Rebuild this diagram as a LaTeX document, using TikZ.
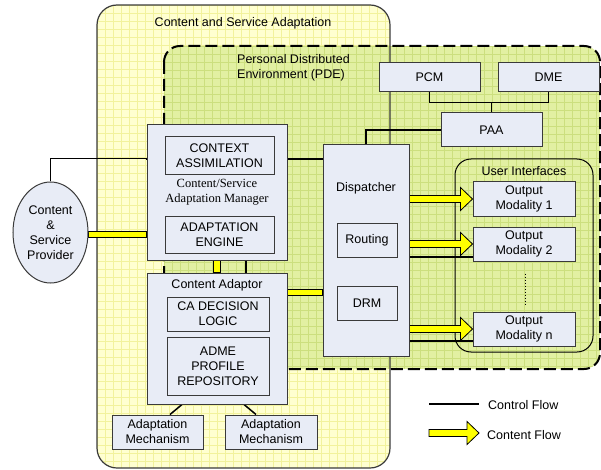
\documentclass[tikz,border=0pt]{standalone}
\usepackage{fontspec}
\setmainfont{Liberation Sans}
\newfontfamily\timesfont{Liberation Serif}
\usetikzlibrary{calc,shapes.geometric}
\definecolor{boxfill}{HTML}{E8ECF6}
\definecolor{boxline}{HTML}{3A3A3A}
\definecolor{csabase}{HTML}{FFFFD0}
\definecolor{csagrid}{HTML}{F2F29C}
\definecolor{pdebase}{HTML}{E2F0A2}
\definecolor{pdegrid}{HTML}{CCDF7E}
\definecolor{flowyellow}{HTML}{FFFF00}
\pgfdeclarelayer{areas}
\pgfdeclarelayer{links}
\pgfsetlayers{areas,links,main}

% yellow content-flow bar between two points on one horizontal line
\newcommand\flowbar[2]{%
  \filldraw[flow] let \p1=#1, \p2=#2 in (\x1,\y1-3pt) rectangle (\x2,\y1+3pt);}
% yellow content-flow bar on one vertical line
\newcommand\flowvbar[2]{%
  \filldraw[flow] let \p1=#1, \p2=#2 in (\x1-3.5pt,\y1) rectangle (\x1+3.5pt,\y2);}
% yellow content-flow arrow, tip at the second point
\newcommand\flowarrow[2]{%
  \filldraw[flow] let \p1=#1, \p2=#2 in
    (\x1,\y2+3.5pt) -- (\x2-12pt,\y2+3.5pt) -- (\x2-12pt,\y2+11.5pt) --
    (\x2,\y2) -- (\x2-12pt,\y2-11.5pt) -- (\x2-12pt,\y2-3.5pt) --
    (\x1,\y2-3.5pt) -- cycle;}

\begin{document}
\begin{tikzpicture}[x=1pt,y=-1pt,
  font=\fontsize{12.5}{15}\selectfont,
  box/.style={draw=boxline, line width=1pt, fill=boxfill, inner sep=0pt, align=center},
  lbl/.style={inner sep=0pt, align=center},
  ctrl/.style={line width=1.5pt, black},
  flow/.style={fill=flowyellow, draw=black, line width=0.8pt, line join=miter},
]
\useasboundingbox (0,0) rectangle (601,470);

% ---- shaded regions ----
\begin{pgfonlayer}{areas}
  \begin{scope}
    \clip[rounded corners=20pt] (97,5) rectangle (390,468);
    \fill[csabase] (97,5) rectangle (390,468);
    \foreach \g in {97,105,...,390} \draw[csagrid, line width=0.7pt] (\g,5) -- (\g,468);
    \foreach \g in {5,13,...,468} \draw[csagrid, line width=0.7pt] (97,\g) -- (390,\g);
  \end{scope}
  \begin{scope}
    \clip[rounded corners=16pt] (164,46) rectangle (600,369);
    \fill[pdebase] (164,46) rectangle (600,369);
    \foreach \g in {164,172,...,600} \draw[pdegrid, line width=0.7pt] (\g,46) -- (\g,369);
    \foreach \g in {46,54,...,369} \draw[pdegrid, line width=0.7pt] (164,\g) -- (600,\g);
  \end{scope}
  \draw[boxline, line width=1.2pt, rounded corners=20pt] (97,5) rectangle (390,468);
  \draw[black, line width=2pt, dash pattern=on 12pt off 5pt, rounded corners=16pt]
    (164,46) rectangle (600,369);
  \draw[black, line width=1pt, rounded corners=16pt] (455,159) rectangle (593,352);
\end{pgfonlayer}

\node[lbl] (csatitle) at (243,23) {Content and Service Adaptation};
\node[lbl, anchor=north west, align=left] (pdetitle) at (237,54.5)
  {Personal Distributed\\Environment (PDE)};
\node[lbl] (uititle) at (524,171) {User Interfaces};

% ---- provider ----
\node[box, ellipse, minimum width=75pt, minimum height=101pt] (csp) at (50.5,232.5)
  {Content\\\&\\Service\\Provider};

% ---- adaptation manager ----
\node[box, minimum width=140pt, minimum height=135pt] (man) at (217,192.5)
  {\timesfont Content/Service\\\timesfont Adaptation Manager};
\node[box, minimum width=109pt, minimum height=38pt] (ctx) at (219.5,156)
  {CONTEXT\\ASSIMILATION};
\node[box, minimum width=109pt, minimum height=37pt] (eng) at (219.5,234.5)
  {ADAPTATION\\ENGINE};

% ---- content adaptor ----
\node[box, minimum width=140pt, minimum height=131pt] (ca) at (217,338.5) {};
\node[lbl] (catitle) at (217,285) {Content Adaptor};
\node[box, minimum width=102pt, minimum height=34pt] (cadl) at (218,314)
  {CA DECISION\\LOGIC};
\node[box, minimum width=102pt, minimum height=58pt] (adme) at (218,366)
  {ADME\\PROFILE\\REPOSITORY};
\node[box, minimum width=91pt, minimum height=34pt] (mech1) at (157.5,432)
  {Adaptation\\Mechanism};
\node[box, minimum width=92pt, minimum height=34pt] (mech2) at (271,432)
  {Adaptation\\Mechanism};

% ---- dispatcher ----
\node[box, minimum width=86pt, minimum height=211pt] (disp) at (366,250.5) {};
\node[lbl] (disptitle) at (366,188) {Dispatcher};
\node[box, minimum width=60pt, minimum height=34pt] (routing) at (367,240) {Routing};
\node[box, minimum width=60pt, minimum height=34pt] (drm) at (367,303) {DRM};

% ---- personal environment services ----
\node[box, minimum width=101pt, minimum height=29pt] (pcm) at (429.5,77.5) {PCM};
\node[box, minimum width=101pt, minimum height=29pt] (dme) at (548.5,77.5) {DME};
\node[box, minimum width=101pt, minimum height=34pt] (paa) at (491.5,130) {PAA};

% ---- output modalities ----
\node[box, minimum width=102pt, minimum height=34pt] (om1) at (524,199)
  {Output\\Modality 1};
\node[box, minimum width=102pt, minimum height=34pt] (om2) at (524,244)
  {Output\\Modality 2};
\node[box, minimum width=102pt, minimum height=34pt] (omn) at (524,329)
  {Output\\Modality n};

% ---- legend ----
\coordinate (lgA) at (429,404);
\coordinate (lgB) at (479,404);
\coordinate (lgC) at (429,433);
\coordinate (lgD) at (479,433);
\node[lbl, anchor=west] (lgctrl) at (488,405) {Control Flow};
\node[lbl, anchor=west] (lgflow) at (487,435) {Content Flow};

% ---- connectors ----
\begin{pgfonlayer}{links}
  % control flow
  \draw[ctrl] (csp.north) -- ++(0,-23) -| (man.west |- 0,159) -- (disp.west |- 0,159);
  \draw[ctrl] (man.south -| 246,0) -- (ca.north -| 246,0);
  \draw[ctrl] (ca.south -| 182,0) -- (mech1.north -| 170,0);
  \draw[ctrl] (ca.south -| 244,0) -- (mech2.north -| 256,0);
  \draw[ctrl] (pcm.south) -- ++(0,10) -| (dme.south);
  \draw[ctrl] (paa.north) -- (paa.north |- 0,102);
  \draw[ctrl] (paa.west) -| (disp.north);
  \draw[ctrl] (disp.east |- 0,257) -- (om2.west |- 0,257);
  \draw[ctrl] (disp.east |- 0,341) -- (omn.west |- 0,341);
  \draw[dotted, line width=1pt] ($(om2.south)+(1,12)$) -- ($(omn.north)+(1,-7)$);
  \draw[ctrl] (lgA) -- (lgB);
  % content flow
  \flowbar{(csp.east |- 0,234)}{(man.west |- 0,234)}
  \flowvbar{(man.south -| 217,0)}{(ca.north -| 217,0)}
  \flowbar{(ca.east |- 0,292.5)}{(disp.west |- 0,292.5)}
  \flowarrow{(disp.east |- om1.west)}{(om1.west)}
  \flowarrow{(disp.east |- om2.west)}{(om2.west)}
  \flowarrow{(disp.east |- omn.west)}{(omn.west)}
  \flowarrow{(lgC)}{(lgD)}
\end{pgfonlayer}
\end{tikzpicture}
\end{document}
